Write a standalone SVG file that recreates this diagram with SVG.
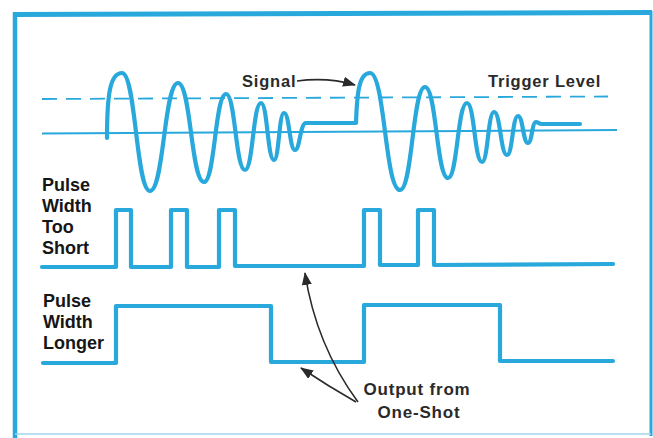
<svg xmlns="http://www.w3.org/2000/svg" width="653" height="438" viewBox="0 0 653 438">
<style>
.wave{fill:none;stroke:#29a8dc;stroke-width:4.2;stroke-linejoin:round;stroke-linecap:round}
.thin{fill:none;stroke:#29a8dc;stroke-width:2}
.dash{fill:none;stroke:#29a8dc;stroke-width:1.8;stroke-dasharray:15 9}
.lbl{font-family:"Liberation Sans",Arial,sans-serif;font-weight:bold;font-size:18px;fill:#161616}
.note{font-family:"Liberation Sans",Arial,sans-serif;font-weight:bold;font-size:16.5px;fill:#2a2a2a;letter-spacing:0.8px}
.out{font-family:"Liberation Sans",Arial,sans-serif;font-weight:bold;font-size:17px;fill:#2a2a2a;letter-spacing:0.8px}
.conn{fill:none;stroke:#2a2a2a;stroke-width:1.6}
</style>
<defs>
<marker id="ah" markerUnits="userSpaceOnUse" markerWidth="16" markerHeight="12" refX="12" refY="5" orient="auto">
<path d="M0,0 L13,5 L0,10 Z" fill="#2a2a2a"/>
</marker>
</defs>
<rect width="653" height="438" fill="#ffffff"/>
<g id="frame">
<path d="M13,14.5 L652,12.5" stroke="#29a8dc" stroke-width="5" fill="none"/>
<path d="M15,12 L15,438" stroke="#29a8dc" stroke-width="4.5" fill="none"/>
<path d="M651,11 L651,436" stroke="#29a8dc" stroke-width="3" fill="none"/>
<path d="M15,434 L651,434" stroke="#9fd6ee" stroke-width="1.5" fill="none"/>
</g>
<g id="trigger-level">
<path class="dash" d="M42,99 L608,96.5"/>
<text class="note" x="488" y="87">Trigger Level</text>
</g>
<g id="zero-line">
<path class="thin" d="M42,133.5 L617,130"/>
</g>
<g id="signal">
<path class="wave" d="M107,138 C107,95 110,73 122,73 C136,73 136,191 150,191 C164,191 164,83 178,83 C191,83 191,182 204,182 C215,182 215,94 226,94 C235.5,94 235.5,170 245,170 C253,170 253,103 261,103 C267.5,103 267.5,160 274,160 C279,160 279,113 284,113 C289.5,113 289.5,150 295,150 C300,150 300,123 306,123 L356,123 C357,93 359,73 370,73 C385,73 385,190 400,190 C412.5,190 412.5,87 425,87 C436.5,87 436.5,178 448,178 C457.5,178 457.5,103 467,103 C474.5,103 474.5,162 482,162 C488,162 488,112 494,112 C500.5,112 500.5,155 507,155 C512.5,155 512.5,116 518,116 C523,116 523,143 528,143 C532,143 532,122 536,122 C538,122 539,124 542,124 L580,124"/>
<text class="note" x="242" y="87">Signal</text>
</g>
<g id="pulse-too-short">
<path class="wave" d="M42,267 L116,267 L116,210 L131,210 L131,267 L171,267 L171,210 L187,210 L187,267 L219,267 L219,210 L235,210 L235,266 L364,266 L364,210 L380,210 L380,265 L418,265 L418,210 L434,210 L434,265 L613,264"/>
<text class="lbl" x="42" y="191">Pulse</text>
<text class="lbl" x="42" y="212">Width</text>
<text class="lbl" x="42" y="233">Too</text>
<text class="lbl" x="42" y="254">Short</text>
</g>
<g id="pulse-longer">
<path class="wave" d="M43,363 L116,363 L116,306 L271,306 L271,362 L364,362 L364,305 L500,305 L500,361 L613,361"/>
<text class="lbl" x="43" y="307">Pulse</text>
<text class="lbl" x="43" y="328">Width</text>
<text class="lbl" x="43" y="349">Longer</text>
</g>
<g id="output-label">
<text class="out" x="417" y="395" text-anchor="middle">Output from</text>
<text class="out" x="419" y="418" text-anchor="middle">One-Shot</text>
</g>
<g id="connectors">
<path class="conn" d="M297,81 Q328,77 355,85" marker-end="url(#ah)"/>
<path class="conn" d="M358,402 Q316,345 305,273" marker-end="url(#ah)"/>
<path class="conn" d="M356,402 Q328,386 301,368" marker-end="url(#ah)"/>
</g>
</svg>
